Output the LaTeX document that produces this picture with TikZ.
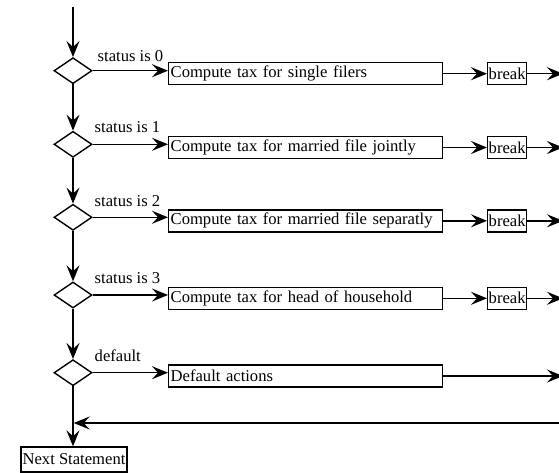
\documentclass[tikz,border=0pt]{standalone}
\usepackage{fontspec}
\setmainfont{Liberation Serif}
\usetikzlibrary{shapes.geometric,arrows.meta}
\begin{document}
\begin{tikzpicture}[x=1pt,y=-1pt,
  font=\fontsize{16.6}{19}\selectfont,
  line width=1.4pt,
  arr/.style={-{Stealth[length=16pt,width=13pt,inset=6pt]}},
  dec/.style={draw, diamond, minimum width=38pt, minimum height=26pt, inner sep=0pt},
  actbox/.style={draw, anchor=west, minimum width=274pt, minimum height=22pt, inner xsep=2pt, inner ysep=0pt, text width=270pt, align=left},
  brk/.style={draw, anchor=west, inner xsep=1pt, inner ysep=0pt, minimum height=22pt},
  lbl/.style={anchor=base west, inner sep=0pt}]
\useasboundingbox (0,0) rectangle (559,472);
\clip (0,0) rectangle (559,472);
\coordinate (top) at (73,7);
% decisions
\node[dec] (d0) at (73,70.7) {};
\node[dec] (d1) at (73,144.3) {};
\node[dec] (d2) at (73,217.3) {};
\node[dec] (d3) at (73,295) {};
\node[dec] (d4) at (73,372.7) {};
% labels
\node[lbl] (l0) at (97,61.7) {status is 0};
\node[lbl] (l1) at (94,132.7) {status is 1};
\node[lbl] (l2) at (94,206.7) {status is 2};
\node[lbl] (l3) at (94,283.3) {status is 3};
\node[lbl] (l4) at (94,361) {default};
% action boxes
\node[actbox] (b0) at (168,73.7) {Compute tax for single filers};
\node[actbox] (b1) at (168,147.5) {Compute tax for married file jointly};
\node[actbox] (b2) at (168,220.8) {Compute tax for married file separatly};
\node[actbox] (b3) at (168,298.3) {Compute tax for head of household};
\node[actbox] (b4) at (168,376) {Default actions};
% break boxes
\node[brk] (k0) at (487,73.7) {break};
\node[brk] (k1) at (487,147.5) {break};
\node[brk] (k2) at (487,220.8) {break};
\node[brk] (k3) at (487,298.3) {break};
% right ends
\coordinate (e0) at (563,73.7);
\coordinate (e1) at (563,147.5);
\coordinate (e2) at (563,220.8);
\coordinate (e3) at (563,298.3);
\coordinate (e4) at (563,376);
% next statement
\node[draw, minimum width=106pt, minimum height=25pt, inner sep=0pt] (ns) at (74,459.5) {Next Statement};
\coordinate (rin) at (559,423);
\coordinate (rj) at (73,423);
% vertical flow
\draw[arr] (top) -- (d0.north);
\draw[arr] (d0.south) -- (d1.north);
\draw[arr] (d1.south) -- (d2.north);
\draw[arr] (d2.south) -- (d3.north);
\draw[arr] (d3.south) -- (d4.north);
\draw[arr] (d4.south) -- (d4.south |- ns.north);
% horizontal
\foreach \i in {0,1,2,3,4} {
  \draw[arr] (d\i.east) -- (d\i.east -| b\i.west);
}
\foreach \i in {0,1,2,3} {
  \draw[arr] (b\i.east) -- (k\i.west);
  \draw[arr] (k\i.east) -- (e\i);
}
\draw[arr] (b4.east) -- (e4);
\draw[arr] (rin) -- ([xshift=0.7pt]rj);
\end{tikzpicture}
\end{document}
